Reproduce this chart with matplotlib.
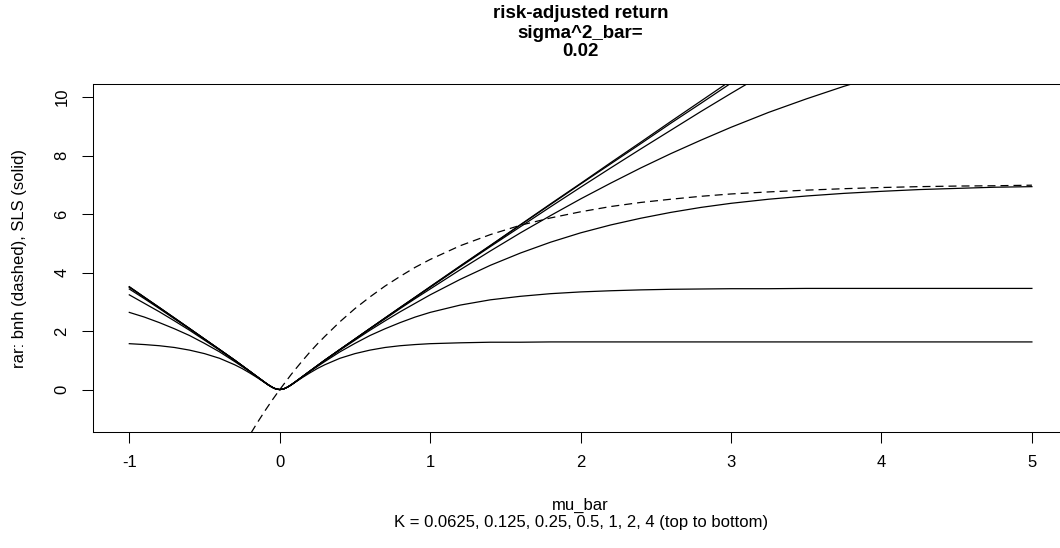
import matplotlib
matplotlib.use("Agg")
import matplotlib.pyplot as plt

# mu_bar grid and risk-adjusted returns (sigma^2_bar = 0.02)
mu_bar = [-1, -0.9, -0.8, -0.7, -0.6, -0.5, -0.4, -0.3, -0.25, -0.2, -0.15, -0.1, -0.075, -0.05, -0.025, 0,
          0.025, 0.05, 0.075, 0.1, 0.15, 0.2, 0.25, 0.3, 0.4, 0.5, 0.6, 0.7, 0.8, 0.9, 1.0,
          1.2, 1.4, 1.6, 1.8, 2.0, 2.2, 2.4, 2.6, 2.8, 3.0, 3.25, 3.5, 3.75, 4.0, 4.25, 4.5, 4.75, 5.0]

# buy-and-hold (dashed)
rar_bnh = [-12.09, -10.27, -8.62, -7.13, -5.78, -4.56, -3.46, -2.46, -2.00, -1.56, -1.14, -0.74, -0.55, -0.36, -0.18, 0,
           0.17, 0.34, 0.51, 0.67, 0.98, 1.28, 1.56, 1.82, 2.32, 2.77, 3.17, 3.54, 3.87, 4.18, 4.45,
           4.92, 5.30, 5.62, 5.87, 6.08, 6.26, 6.40, 6.51, 6.61, 6.69, 6.76, 6.82, 6.87, 6.91, 6.94, 6.96, 6.97, 6.99]

# SLS (solid), one list per K
K_values = [0.0625, 0.125, 0.25, 0.5, 1, 2, 4]
rar_sls = {
    0.0625: [3.52, 3.16, 2.81, 2.45, 2.09, 1.73, 1.37, 1.01, 0.82, 0.63, 0.44, 0.25, 0.16, 0.08, 0.02, 0,
             0.02, 0.08, 0.16, 0.25, 0.44, 0.63, 0.82, 1.01, 1.37, 1.73, 2.09, 2.45, 2.81, 3.16, 3.52,
             4.23, 4.93, 5.64, 6.35, 7.05, 7.76, 8.46, 9.17, 9.87, 10.57, 11.45, 12.32, 13.19, 14.06, 14.93, 15.80, 16.67, 17.53],
    0.125: [3.51, 3.16, 2.80, 2.45, 2.09, 1.73, 1.37, 1.01, 0.82, 0.63, 0.44, 0.25, 0.16, 0.08, 0.02, 0,
            0.02, 0.08, 0.16, 0.25, 0.44, 0.63, 0.82, 1.01, 1.37, 1.73, 2.09, 2.45, 2.80, 3.16, 3.51,
            4.22, 4.92, 5.63, 6.33, 7.03, 7.72, 8.41, 9.11, 9.79, 10.48, 11.33, 12.18, 13.02, 13.85, 14.68, 15.50, 16.31, 17.12],
    0.25: [3.50, 3.15, 2.80, 2.44, 2.09, 1.73, 1.37, 1.01, 0.82, 0.63, 0.44, 0.25, 0.16, 0.08, 0.02, 0,
           0.02, 0.08, 0.16, 0.25, 0.44, 0.63, 0.82, 1.01, 1.37, 1.73, 2.09, 2.44, 2.80, 3.15, 3.50,
           4.20, 4.89, 5.57, 6.25, 6.92, 7.58, 8.23, 8.87, 9.51, 10.13, 10.89, 11.63, 12.36, 13.06, 13.75, 14.41, 15.06, 15.68],
    0.5: [3.44, 3.11, 2.77, 2.42, 2.08, 1.72, 1.37, 1.00, 0.82, 0.63, 0.44, 0.25, 0.16, 0.08, 0.02, 0,
          0.02, 0.08, 0.16, 0.25, 0.44, 0.63, 0.82, 1.00, 1.37, 1.72, 2.08, 2.42, 2.77, 3.11, 3.44,
          4.10, 4.74, 5.36, 5.95, 6.52, 7.06, 7.58, 8.07, 8.53, 8.97, 9.48, 9.94, 10.37, 10.76, 11.11, 11.43, 11.72, 11.98],
    1: [3.24, 2.95, 2.66, 2.35, 2.03, 1.69, 1.35, 1.00, 0.81, 0.63, 0.44, 0.25, 0.16, 0.08, 0.02, 0,
        0.02, 0.08, 0.16, 0.25, 0.44, 0.63, 0.81, 1.00, 1.35, 1.69, 2.03, 2.35, 2.66, 2.95, 3.24,
        3.77, 4.25, 4.67, 5.04, 5.36, 5.63, 5.86, 6.06, 6.23, 6.37, 6.51, 6.62, 6.71, 6.78, 6.84, 6.88, 6.92, 6.94],
    2: [2.64, 2.48, 2.29, 2.08, 1.85, 1.58, 1.29, 0.96, 0.79, 0.62, 0.43, 0.25, 0.16, 0.08, 0.02, 0,
        0.02, 0.08, 0.16, 0.25, 0.43, 0.62, 0.79, 0.96, 1.29, 1.58, 1.85, 2.08, 2.29, 2.48, 2.64,
        2.89, 3.07, 3.19, 3.28, 3.34, 3.38, 3.41, 3.43, 3.44, 3.45, 3.45, 3.46, 3.46, 3.46, 3.46, 3.46, 3.46, 3.46],
    4: [1.57, 1.54, 1.50, 1.44, 1.35, 1.23, 1.07, 0.85, 0.72, 0.57, 0.41, 0.24, 0.15, 0.08, 0.02, 0,
        0.02, 0.08, 0.15, 0.24, 0.41, 0.57, 0.72, 0.85, 1.07, 1.23, 1.35, 1.44, 1.50, 1.54, 1.57,
        1.60, 1.62, 1.62, 1.63, 1.63, 1.63, 1.63, 1.63, 1.63, 1.63, 1.63, 1.63, 1.63, 1.63, 1.63, 1.63, 1.63, 1.63],
}

x_ticks = [-1, 0, 1, 2, 3, 4, 5]
y_ticks = [0, 2, 4, 6, 8, 10]

plt.rcParams['font.family'] = ['Liberation Sans', 'DejaVu Sans']

W, H = 1060, 548
fig = plt.figure(figsize=(W / 100, H / 100), dpi=100)
# plot box in pixels: left 93, right 1068 (past the image edge), top 84, bottom 432
ax = fig.add_axes([93.2 / W, 1 - 431.7 / H, (1068 - 93.2) / W, (431.7 - 84.3) / H])

for K in K_values:
    ax.plot(mu_bar, rar_sls[K], color='black', lw=0.9)
ax.plot(mu_bar, rar_bnh, color='black', lw=0.9, dashes=(6.4, 4.0))

ax.set_xlim(-1.24, 5.24)
ax.set_ylim(-1.44, 10.44)
ax.set_xticks(x_ticks)
ax.set_xticklabels([str(v) for v in x_ticks])
ax.set_yticks(y_ticks)
ax.set_yticklabels([str(v) for v in y_ticks])
ax.tick_params(direction='out', length=8, width=0.75, labelsize=12, pad=9)
ax.tick_params(axis='y', labelrotation=90)
for lab in ax.get_yticklabels():
    lab.set_va('center')
for s in ax.spines.values():
    s.set_linewidth(0.75)

cx = (93.2 + 1068) / 2 / W
fig.text(cx, 1 - 14 / H, 'risk-adjusted return', ha='center', va='center', fontsize=13.5, fontweight='bold')
fig.text(cx, 1 - 33 / H, 'sigma^2_bar=', ha='center', va='center', fontsize=13.5, fontweight='bold')
fig.text(cx, 1 - 52 / H, '0.02', ha='center', va='center', fontsize=13.5, fontweight='bold')

fig.text(cx, 1 - 505 / H, 'mu_bar', ha='center', va='center', fontsize=12)
fig.text(cx, 1 - 523 / H, 'K = 0.0625, 0.125, 0.25, 0.5, 1, 2, 4 (top to bottom)',
         ha='center', va='center', fontsize=12)
fig.text(20 / W, 1 - 258 / H, 'rar: bnh (dashed), SLS (solid)', rotation=90,
         ha='center', va='center', fontsize=12)

fig.savefig('out.png', dpi=100)
